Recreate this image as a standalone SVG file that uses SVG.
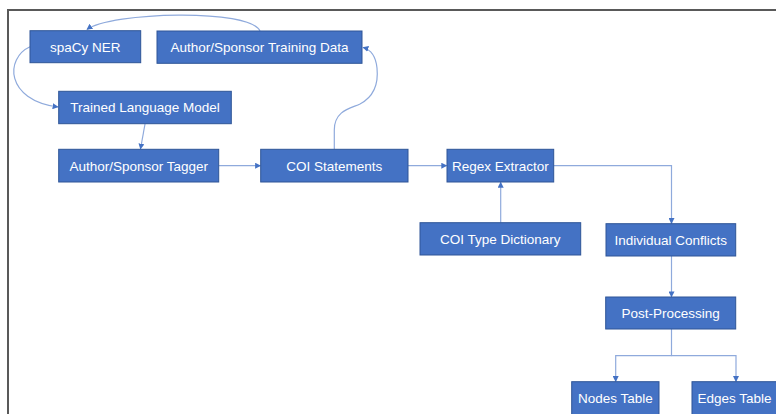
<svg xmlns="http://www.w3.org/2000/svg" width="776" height="414" viewBox="0 0 776 414">
  <style>
    .node rect { fill: #4472c4; stroke: #2f5597; stroke-width: 1; }
    .node text { fill: #ffffff; font-family: "Liberation Sans", Arial, sans-serif; font-size: 13.5px; text-anchor: middle; }
    .edge { fill: none; stroke: #8faadc; stroke-width: 1.2; }
  </style>
  <defs>
    <marker id="arrow" viewBox="0 0 10 10" refX="9" refY="5" markerWidth="6" markerHeight="6" markerUnits="userSpaceOnUse" orient="auto">
      <path d="M0,0 L10,5 L0,10 z" fill="#4472c4"/>
    </marker>
  </defs>

  <rect x="0" y="0" width="776" height="414" fill="#ffffff"/>
  <!-- frame -->
  <path d="M8,414 V10 H776" fill="none" stroke="#595959" stroke-width="2"/>

  <g id="connectors">
    <path class="edge" d="M260,31 C250,8 110,12 87,29.5" marker-end="url(#arrow)"/>
    <path class="edge" d="M30,46.7 C5,58 5,100 58,107" marker-end="url(#arrow)"/>
    <path class="edge" d="M145,124 L140.5,149" marker-end="url(#arrow)"/>
    <path class="edge" d="M218.7,165.7 H260.5" marker-end="url(#arrow)"/>
    <path class="edge" d="M334.3,149.3 V130 C334.3,110 352,108 360,104 C377,95 378,78 377,68 C376,58 372,50 363,47.5" marker-end="url(#arrow)"/>
    <path class="edge" d="M408,165.7 H446.7" marker-end="url(#arrow)"/>
    <path class="edge" d="M500.7,222.7 V182.3" marker-end="url(#arrow)"/>
    <path class="edge" d="M553.7,165.7 H671.5 V223.5" marker-end="url(#arrow)"/>
    <path class="edge" d="M671.5,256 V296.8" marker-end="url(#arrow)"/>
    <path class="edge" d="M671.5,329 V355.7 H615.7 V381.5" marker-end="url(#arrow)"/>
    <path class="edge" d="M671.5,355.7 H736 V381.5" marker-end="url(#arrow)"/>
  </g>

  <g id="spacy-ner" class="node">
    <rect x="30" y="30.7" width="110.7" height="32"/>
    <text x="85.3" y="51.5">spaCy NER</text>
  </g>
  <g id="training-data" class="node">
    <rect x="157" y="31" width="205" height="32.3"/>
    <text x="259.5" y="52">Author/Sponsor Training Data</text>
  </g>
  <g id="language-model" class="node">
    <rect x="58.7" y="91.3" width="172.6" height="32.4"/>
    <text x="145" y="112.3">Trained Language Model</text>
  </g>
  <g id="tagger" class="node">
    <rect x="58.7" y="149.3" width="160" height="32.7"/>
    <text x="138.7" y="170.5">Author/Sponsor Tagger</text>
  </g>
  <g id="coi-statements" class="node">
    <rect x="260.7" y="149.3" width="147.3" height="32.7"/>
    <text x="334.3" y="170.5">COI Statements</text>
  </g>
  <g id="regex-extractor" class="node">
    <rect x="447" y="149.3" width="106.7" height="32.7"/>
    <text x="500.3" y="170.5">Regex Extractor</text>
  </g>
  <g id="coi-type-dictionary" class="node">
    <rect x="420" y="222.7" width="160.7" height="32.3"/>
    <text x="500.3" y="243.7">COI Type Dictionary</text>
  </g>
  <g id="individual-conflicts" class="node">
    <rect x="606" y="223.7" width="129.7" height="32.3"/>
    <text x="670.8" y="244.7">Individual Conflicts</text>
  </g>
  <g id="post-processing" class="node">
    <rect x="605.7" y="297" width="130" height="32"/>
    <text x="670.7" y="317.7">Post-Processing</text>
  </g>
  <g id="nodes-table" class="node">
    <rect x="571.7" y="381.7" width="87.3" height="40"/>
    <text x="615.3" y="402.5">Nodes Table</text>
  </g>
  <g id="edges-table" class="node">
    <rect x="692" y="381.7" width="87.3" height="40"/>
    <text x="734.5" y="402.5">Edges Table</text>
  </g>
</svg>
